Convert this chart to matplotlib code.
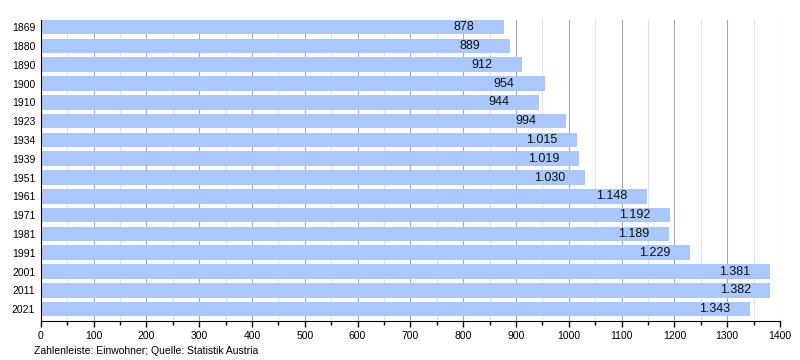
import matplotlib.pyplot as plt
from matplotlib.ticker import MultipleLocator

plt.rcParams['font.family'] = ['Liberation Sans', 'DejaVu Sans']

years = ['1869', '1880', '1890', '1900', '1910', '1923', '1934', '1939',
         '1951', '1961', '1971', '1981', '1991', '2001', '2011', '2021']
einwohner = [878, 889, 912, 954, 944, 994, 1015, 1019,
             1030, 1148, 1192, 1189, 1229, 1381, 1382, 1343]

fig = plt.figure(figsize=(8, 3.6), dpi=100)
ax = fig.add_axes([0.051, 0.109, 0.924, 0.835])

pos = list(range(len(years)))
ax.barh(pos, einwohner, height=0.77, color='#aac8ff', zorder=2)

# Zahl links ausgerichtet, fester Abstand vor dem Balkenende
for p, v in zip(pos, einwohner):
    lbl = f'{v:,}'.replace(',', '.')
    ax.annotate(lbl, (v, p), xytext=(-36.5, 0), textcoords='offset points',
                ha='left', va='center', fontsize=9, color='#111111', zorder=3)

ax.set_xlim(0, 1400)
ax.set_ylim(15.62, -0.37)
ax.set_yticks(pos)
ax.set_yticklabels(years, fontsize=7.5)
ax.tick_params(axis='y', length=0, pad=4)

ax.xaxis.set_major_locator(MultipleLocator(100))
ax.xaxis.set_minor_locator(MultipleLocator(50))
ax.tick_params(axis='x', which='major', labelsize=7.5, length=4, direction='out', width=1)
ax.tick_params(axis='x', which='minor', length=3, direction='out', width=1)
ax.grid(axis='x', which='major', color='#a8a8a8', lw=0.8, zorder=0)
ax.grid(axis='x', which='minor', color='#e2e2e2', lw=0.8, zorder=0)
ax.set_axisbelow(True)

for s in ['top', 'right']:
    ax.spines[s].set_visible(False)
ax.spines['left'].set_color('black')
ax.spines['bottom'].set_color('black')

fig.text(0.043, 0.018, 'Zahlenleiste: Einwohner; Quelle: Statistik Austria', fontsize=7.5)

fig.savefig('out.png', dpi=100)
